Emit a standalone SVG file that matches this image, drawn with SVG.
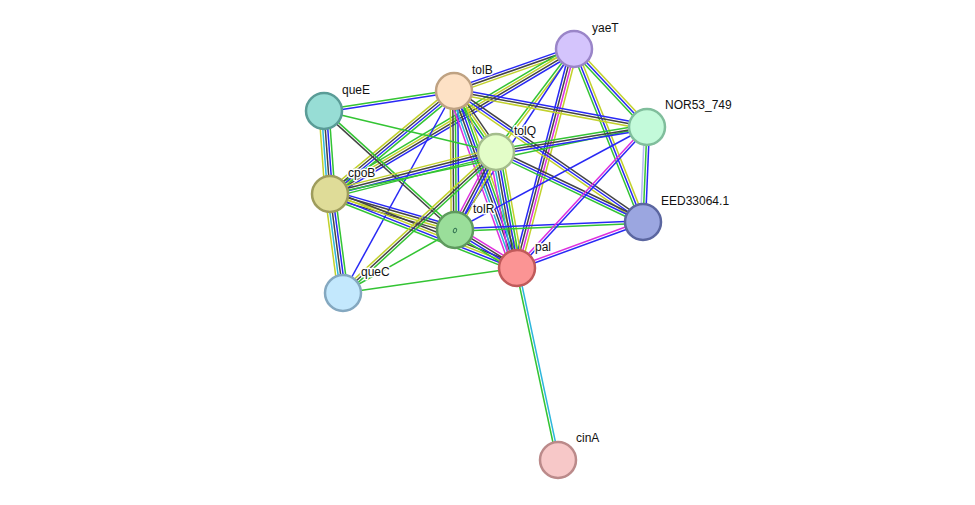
<svg xmlns="http://www.w3.org/2000/svg" width="975" height="505" viewBox="0 0 975 505">
<style>
line{stroke-width:1.5;fill:none}
.g{stroke:#33c433}.b{stroke:#2828f5}.k{stroke:#444}.y{stroke:#c2d12b}.m{stroke:#de2fde}.c{stroke:#2cb6dc}.l{stroke:#b4b8f4}
.node circle{stroke-width:2.5}
.node text{font-family:"Liberation Sans",Arial,sans-serif;font-size:12px;fill:#111;stroke:#fff;stroke-width:3;paint-order:stroke;stroke-linejoin:round}
</style>
<rect width="975" height="505" fill="#fff"/>
<g id="edges">
<g transform="translate(454,91) rotate(-19.29)"><line x2="127.1" y1="-2.5" y2="-2.5" class="b"/><line x2="127.1" class="k"/><line x2="127.1" y1="2.5" y2="2.5" class="y"/></g>
<g transform="translate(330,194) rotate(-30.72)"><line x2="283.8" y1="-3.75" y2="-3.75" class="g"/><line x2="283.8" y1="-1.25" y2="-1.25" class="y"/><line x2="283.8" y1="1.25" y2="1.25" class="k"/><line x2="283.8" y1="3.75" y2="3.75" class="b"/></g>
<g transform="translate(496,152) rotate(-52.86)"><line x2="129.2" y1="-1.25" y2="-1.25" class="g"/><line x2="129.2" y1="1.25" y2="1.25" class="y"/></g>
<g transform="translate(455,230) rotate(-56.67)"><line x2="216.6" class="b"/></g>
<g transform="translate(517,268) rotate(-75.41)"><line x2="226.3" y1="-3.75" y2="-3.75" class="b"/><line x2="226.3" y1="-1.25" y2="-1.25" class="k"/><line x2="226.3" y1="1.25" y2="1.25" class="m"/><line x2="226.3" y1="3.75" y2="3.75" class="y"/></g>
<g transform="translate(574,49) rotate(46.9)"><line x2="106.8" y1="-2.5" y2="-2.5" class="y"/><line x2="106.8" class="b"/><line x2="106.8" y1="2.5" y2="2.5" class="g"/></g>
<g transform="translate(574,49) rotate(68.25)"><line x2="186.3" y1="-2.5" y2="-2.5" class="y"/><line x2="186.3" class="b"/><line x2="186.3" y1="2.5" y2="2.5" class="g"/></g>
<g transform="translate(324,111) rotate(-8.75)"><line x2="131.5" y1="-1.25" y2="-1.25" class="g"/><line x2="131.5" y1="1.25" y2="1.25" class="b"/></g>
<g transform="translate(330,194) rotate(-39.71)"><line x2="161.2" y1="-3.75" y2="-3.75" class="y"/><line x2="161.2" y1="-1.25" y2="-1.25" class="k"/><line x2="161.2" y1="1.25" y2="1.25" class="b"/><line x2="161.2" y1="3.75" y2="3.75" class="g"/></g>
<g transform="translate(454,91) rotate(55.45)"><line x2="74.06" y1="-3.75" y2="-3.75" class="k"/><line x2="74.06" y1="-1.25" y2="-1.25" class="y"/><line x2="74.06" y1="1.25" y2="1.25" class="g"/><line x2="74.06" y1="3.75" y2="3.75" class="b"/></g>
<g transform="translate(454,91) rotate(89.59)"><line x2="139" y1="-3.75" y2="-3.75" class="b"/><line x2="139" y1="-1.25" y2="-1.25" class="g"/><line x2="139" y1="1.25" y2="1.25" class="k"/><line x2="139" y1="3.75" y2="3.75" class="y"/></g>
<g transform="translate(454,91) rotate(70.41)"><line x2="187.9" y1="-6.25" y2="-6.25" class="y"/><line x2="187.9" y1="-3.75" y2="-3.75" class="g"/><line x2="187.9" y1="-1.25" y2="-1.25" class="b"/><line x2="187.9" y1="1.25" y2="1.25" class="k"/><line x2="187.9" y1="3.75" y2="3.75" class="c"/><line x2="187.9" y1="6.25" y2="6.25" class="m"/></g>
<g transform="translate(454,91) rotate(10.57)"><line x2="196.3" y1="-2.5" y2="-2.5" class="b"/><line x2="196.3" class="k"/><line x2="196.3" y1="2.5" y2="2.5" class="y"/></g>
<g transform="translate(454,91) rotate(34.72)"><line x2="230" y1="-2.5" y2="-2.5" class="k"/><line x2="230" class="b"/><line x2="230" y1="2.5" y2="2.5" class="y"/></g>
<g transform="translate(343,293) rotate(-61.21)"><line x2="230.5" class="b"/></g>
<g transform="translate(324,111) rotate(85.87)"><line x2="83.2" y1="-5" y2="-5" class="g"/><line x2="83.2" y1="-2.5" y2="-2.5" class="b"/><line x2="83.2" class="k"/><line x2="83.2" y1="2.5" y2="2.5" class="c"/><line x2="83.2" y1="5" y2="5" class="y"/></g>
<g transform="translate(324,111) rotate(13.41)"><line x2="176.8" class="g"/></g>
<g transform="translate(324,111) rotate(42.25)"><line x2="177" y1="-1.25" y2="-1.25" class="g"/><line x2="177" y1="1.25" y2="1.25" class="k"/></g>
<g transform="translate(330,194) rotate(-14.2)"><line x2="171.2" y1="-3.75" y2="-3.75" class="y"/><line x2="171.2" y1="-1.25" y2="-1.25" class="k"/><line x2="171.2" y1="1.25" y2="1.25" class="b"/><line x2="171.2" y1="3.75" y2="3.75" class="g"/></g>
<g transform="translate(330,194) rotate(16.07)"><line x2="130.1" y1="-3.75" y2="-3.75" class="b"/><line x2="130.1" y1="-1.25" y2="-1.25" class="k"/><line x2="130.1" y1="1.25" y2="1.25" class="y"/><line x2="130.1" y1="3.75" y2="3.75" class="k"/></g>
<g transform="translate(330,194) rotate(21.59)"><line x2="201.1" y1="-3.75" y2="-3.75" class="k"/><line x2="201.1" y1="-1.25" y2="-1.25" class="y"/><line x2="201.1" y1="1.25" y2="1.25" class="b"/><line x2="201.1" y1="3.75" y2="3.75" class="g"/></g>
<g transform="translate(330,194) rotate(82.52)"><line x2="99.85" y1="-5" y2="-5" class="g"/><line x2="99.85" y1="-2.5" y2="-2.5" class="b"/><line x2="99.85" class="k"/><line x2="99.85" y1="2.5" y2="2.5" class="c"/><line x2="99.85" y1="5" y2="5" class="y"/></g>
<g transform="translate(330,194) rotate(-11.93)"><line x2="324" class="g"/></g>
<g transform="translate(496,152) rotate(117.73)"><line x2="88.1" y1="-3.75" y2="-3.75" class="y"/><line x2="88.1" y1="-1.25" y2="-1.25" class="b"/><line x2="88.1" y1="1.25" y2="1.25" class="k"/><line x2="88.1" y1="3.75" y2="3.75" class="m"/></g>
<g transform="translate(496,152) rotate(79.74)"><line x2="117.9" y1="-6.25" y2="-6.25" class="y"/><line x2="117.9" y1="-3.75" y2="-3.75" class="g"/><line x2="117.9" y1="-1.25" y2="-1.25" class="b"/><line x2="117.9" y1="1.25" y2="1.25" class="k"/><line x2="117.9" y1="3.75" y2="3.75" class="c"/><line x2="117.9" y1="6.25" y2="6.25" class="m"/></g>
<g transform="translate(496,152) rotate(-9.4)"><line x2="153.1" y1="-2.5" y2="-2.5" class="g"/><line x2="153.1" class="k"/><line x2="153.1" y1="2.5" y2="2.5" class="b"/></g>
<g transform="translate(496,152) rotate(25.46)"><line x2="162.8" y1="-2.5" y2="-2.5" class="k"/><line x2="162.8" class="b"/><line x2="162.8" y1="2.5" y2="2.5" class="g"/></g>
<g transform="translate(343,293) rotate(-42.66)"><line x2="208.1" y1="-2.5" y2="-2.5" class="y"/><line x2="208.1" class="k"/><line x2="208.1" y1="2.5" y2="2.5" class="g"/></g>
<g transform="translate(455,230) rotate(31.5)"><line x2="72.7" y1="-3.75" y2="-3.75" class="m"/><line x2="72.7" y1="-1.25" y2="-1.25" class="k"/><line x2="72.7" y1="1.25" y2="1.25" class="b"/><line x2="72.7" y1="3.75" y2="3.75" class="g"/></g>
<g transform="translate(455,230) rotate(-2.44)"><line x2="188.2" y1="-1.25" y2="-1.25" class="b"/><line x2="188.2" y1="1.25" y2="1.25" class="g"/></g>
<g transform="translate(455,230) rotate(-28.21)"><line x2="217.9" class="b"/></g>
<g transform="translate(343,293) rotate(-29.36)"><line x2="128.5" class="g"/></g>
<g transform="translate(517,268) rotate(-20.06)"><line x2="134.1" y1="-1.25" y2="-1.25" class="m"/><line x2="134.1" y1="1.25" y2="1.25" class="b"/></g>
<g transform="translate(517,268) rotate(-47.32)"><line x2="191.8" y1="-1.25" y2="-1.25" class="m"/><line x2="191.8" y1="1.25" y2="1.25" class="b"/></g>
<g transform="translate(343,293) rotate(-8.18)"><line x2="175.8" class="g"/></g>
<g transform="translate(517,268) rotate(77.95)"><line x2="196.3" y1="-1.25" y2="-1.25" class="c"/><line x2="196.3" y1="1.25" y2="1.25" class="g"/></g>
<g transform="translate(647,127) rotate(92.41)"><line x2="95.1" y1="-2.5" y2="-2.5" class="b"/><line x2="95.1" class="g"/><line x2="95.1" y1="2.5" y2="2.5" class="l"/></g>
</g>
<g id="node-yaeT" class="node"><circle cx="574" cy="49" r="18" fill="#d4c4fc" stroke="#9a85c8"/><text x="592" y="32">yaeT</text></g>
<g id="node-tolB" class="node"><circle cx="454" cy="91" r="18" fill="#fde1c5" stroke="#bfa282"/><text x="472" y="74">tolB</text></g>
<g id="node-queE" class="node"><circle cx="324" cy="111" r="18" fill="#97ddd5" stroke="#5a9c97"/><text x="342" y="94">queE</text></g>
<g id="node-NOR53_749" class="node"><circle cx="647" cy="127" r="18" fill="#c3fada" stroke="#80be9c"/><text x="665" y="109">NOR53_749</text></g>
<g id="node-tolQ" class="node"><circle cx="496" cy="152" r="18" fill="#e3fdc8" stroke="#a4bd8c"/><text x="514" y="135">tolQ</text></g>
<g id="node-cpoB" class="node"><circle cx="330" cy="194" r="18" fill="#dfdc98" stroke="#9e9c5c"/><text x="348" y="177">cpoB</text></g>
<g id="node-EED33064.1" class="node"><circle cx="643" cy="222" r="18" fill="#9ba6e0" stroke="#5b66a0"/><text x="661" y="205">EED33064.1</text></g>
<g id="node-tolR" class="node"><circle cx="455" cy="230" r="18" fill="#9ade9a" stroke="#5e9a5e"/><ellipse cx="455" cy="230.5" rx="1.6" ry="2.2" fill="none" stroke="#2f6f4f" stroke-width="0.9" transform="rotate(25 455 230.5)"/><text x="473" y="213">tolR</text></g>
<g id="node-pal" class="node"><circle cx="517" cy="268" r="18" fill="#fb9494" stroke="#c05a5a"/><text x="535" y="251">pal</text></g>
<g id="node-queC" class="node"><circle cx="343" cy="293" r="18" fill="#c3e8fd" stroke="#84a8c0"/><text x="361" y="276">queC</text></g>
<g id="node-cinA" class="node"><circle cx="558" cy="460" r="18" fill="#f7c8c8" stroke="#bb8a8a"/><text x="576" y="442">cinA</text></g>
</svg>
